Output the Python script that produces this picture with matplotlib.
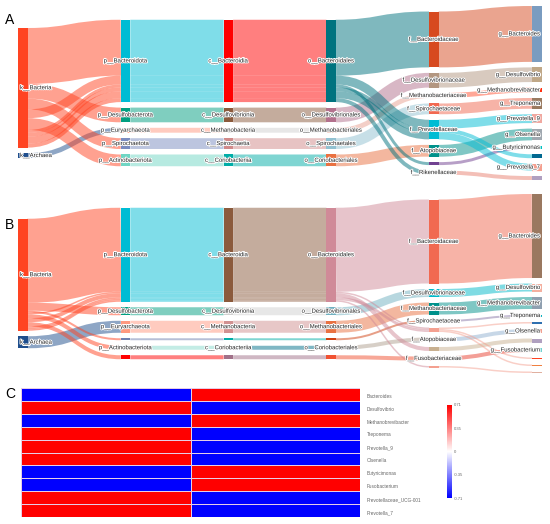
import matplotlib
matplotlib.use("Agg")
import matplotlib.pyplot as plt
import matplotlib.patheffects as pe
from matplotlib.path import Path
from matplotlib.patches import PathPatch, Rectangle
from matplotlib.colors import LinearSegmentedColormap
import numpy as np

plt.rcParams['font.family'] = ['Liberation Sans', 'DejaVu Sans']

RANKS = ['k', 'p', 'c', 'o', 'f', 'g']

# ---- panel A: one row per genus ----
kingdom_a = ['Bacteria', 'Bacteria', 'Archaea', 'Bacteria', 'Bacteria',
             'Bacteria', 'Bacteria', 'Bacteria', 'Bacteria', 'Bacteria']
phylum_a = ['Bacteroidota', 'Desulfobacterota', 'Euryarchaeota', 'Spirochaetota', 'Bacteroidota',
            'Actinobacteriota', 'Bacteroidota', 'Bacteroidota', 'Bacteroidota', 'Bacteroidota']
class_a = ['Bacteroidia', 'Desulfovibrionia', 'Methanobacteria', 'Spirochaetia', 'Bacteroidia',
           'Coriobacteriia', 'Bacteroidia', 'Bacteroidia', 'Bacteroidia', 'Bacteroidia']
order_a = ['Bacteroidales', 'Desulfovibrionales', 'Methanobacteriales', 'Spirochaetales', 'Bacteroidales',
           'Coriobacteriales', 'Bacteroidales', 'Bacteroidales', 'Bacteroidales', 'Bacteroidales']
family_a = ['Bacteroidaceae', 'Desulfovibrionaceae', 'Methanobacteriaceae', 'Spirochaetaceae', 'Prevotellaceae',
            'Atopobiaceae', 'Marinifilaceae', 'Prevotellaceae', 'Prevotellaceae', 'Rikenellaceae']
genus_a = ['Bacteroides', 'Desulfovibrio', 'Methanobrevibacter', 'Treponema', 'Prevotella_9',
           'Olsenella', 'Butyricimonas', 'Prevotellaceae_UCG-001', 'Prevotella_7', 'Rikenellaceae_RC9_gut_group']
abund_a = [57, 15, 5, 11, 9, 12, 3, 4, 7, 4]

# ---- panel B ----
kingdom_b = ['Bacteria', 'Bacteria', 'Archaea', 'Bacteria', 'Bacteria', 'Bacteria',
             'Bacteria', 'Bacteria', 'Bacteria', 'Bacteria', 'Bacteria']
phylum_b = ['Bacteroidota', 'Desulfobacterota', 'Euryarchaeota', 'Spirochaetota', 'Bacteroidota', 'Actinobacteriota',
            'Bacteroidota', 'Fusobacteriota', 'Bacteroidota', 'Bacteroidota', 'Bacteroidota']
class_b = ['Bacteroidia', 'Desulfovibrionia', 'Methanobacteria', 'Spirochaetia', 'Bacteroidia', 'Coriobacteriia',
           'Bacteroidia', 'Fusobacteriia', 'Bacteroidia', 'Bacteroidia', 'Bacteroidia']
order_b = ['Bacteroidales', 'Desulfovibrionales', 'Methanobacteriales', 'Spirochaetales', 'Bacteroidales',
           'Coriobacteriales', 'Bacteroidales', 'Fusobacteriales', 'Bacteroidales', 'Bacteroidales', 'Bacteroidales']
family_b = ['Bacteroidaceae', 'Desulfovibrionaceae', 'Methanobacteriaceae', 'Spirochaetaceae', 'Prevotellaceae',
            'Atopobiaceae', 'Marinifilaceae', 'Fusobacteriaceae', 'Prevotellaceae', 'Prevotellaceae', 'Rikenellaceae']
genus_b = ['Bacteroides', 'Desulfovibrio', 'Methanobrevibacter', 'Treponema', 'Prevotella_9', 'Olsenella',
           'Butyricimonas', 'Fusobacterium', 'Prevotellaceae_UCG-001', 'Prevotella_7', 'Rikenellaceae_RC9_gut_group']
abund_b = [84, 8, 12, 2, 1.5, 4, 4, 4, 1.5, 1.5, 1.5]

# ---- panel C heatmap ----
heat_genera = ['Bacteroides', 'Desulfovibrio', 'Methanobrevibacter', 'Treponema', 'Prevotella_9',
               'Olsenella', 'Butyricimonas', 'Fusobacterium', 'Prevotellaceae_UCG-001', 'Prevotella_7']
group1 = [-0.71, 0.71, -0.71, 0.71, 0.71, 0.71, -0.71, -0.71, 0.71, 0.71]
group2 = [0.71, -0.71, 0.71, -0.71, -0.71, -0.71, 0.71, 0.71, -0.71, -0.71]

# node colours
colors_a = {
    'k__Bacteria': '#FF4422', 'k__Archaea': '#1F4E8C',
    'p__Bacteroidota': '#00BCD4', 'p__Desulfobacterota': '#009F81', 'p__Euryarchaeota': '#FF9980',
    'p__Spirochaetota': '#7A8CC0', 'p__Actinobacteriota': '#70D6C4',
    'c__Bacteroidia': '#FF0000', 'c__Desulfovibrionia': '#8B5A3C', 'c__Methanobacteria': '#D0D0D0',
    'c__Spirochaetia': '#D18989', 'c__Coriobacteriia': '#00ADA7',
    'o__Bacteroidales': '#00737F', 'o__Desulfovibrionales': '#B3718D', 'o__Methanobacteriales': '#E9A191',
    'o__Spirochaetales': '#91C1D1', 'o__Coriobacteriales': '#E97141',
    'f__Bacteroidaceae': '#D74A20', 'f__Desulfovibrionaceae': '#B39781', 'f__Methanobacteriaceae': '#FF5030',
    'f__Spirochaetaceae': '#F16951', 'f__Prevotellaceae': '#00BCD4', 'f__Atopobiaceae': '#00918B',
    'f__Marinifilaceae': '#714191', 'f__Rikenellaceae': '#E98171',
    'g__Bacteroides': '#7A9CC0', 'g__Desulfovibrio': '#C0A888', 'g__Methanobrevibacter': '#FF3010',
    'g__Treponema': '#9A7A60', 'g__Prevotella_9': '#F0A8A0', 'g__Olsenella': '#A0A8B0',
    'g__Butyricimonas': '#00C0C0', 'g__Prevotellaceae_UCG-001': '#006890', 'g__Prevotella_7': '#F4A090',
    'g__Rikenellaceae_RC9_gut_group': '#B0A0C0',
}
colors_b = {
    'k__Bacteria': '#FF4422', 'k__Archaea': '#1F4E8C',
    'p__Bacteroidota': '#00BCD4', 'p__Desulfobacterota': '#009F81', 'p__Euryarchaeota': '#FF9980',
    'p__Spirochaetota': '#7080B0', 'p__Actinobacteriota': '#89DBCD', 'p__Fusobacteriota': '#FF0000',
    'c__Bacteroidia': '#8B5A3C', 'c__Desulfovibrionia': '#D1D1D1', 'c__Methanobacteria': '#D19191',
    'c__Spirochaetia': '#00ADA7', 'c__Coriobacteriia': '#01718B', 'c__Fusobacteriia': '#A17189',
    'o__Bacteroidales': '#D08A98', 'o__Desulfovibrionales': '#71B1C1', 'o__Methanobacteriales': '#E97141',
    'o__Spirochaetales': '#D04010', 'o__Coriobacteriales': '#B1A191', 'o__Fusobacteriales': '#F15131',
    'f__Bacteroidaceae': '#F16951', 'f__Desulfovibrionaceae': '#00B8C8', 'f__Methanobacteriaceae': '#00918B',
    'f__Spirochaetaceae': '#8A78A8', 'f__Prevotellaceae': '#F4A090', 'f__Atopobiaceae': '#91B1D1',
    'f__Marinifilaceae': '#C8B090', 'f__Fusobacteriaceae': '#E84030', 'f__Rikenellaceae': '#F4A090',
    'g__Bacteroides': '#9A7860', 'g__Desulfovibrio': '#F4B0A0', 'g__Methanobrevibacter': '#90A0B0',
    'g__Treponema': '#00B0C0', 'g__Prevotella_9': '#3070B0', 'g__Olsenella': '#F0A090',
    'g__Butyricimonas': '#B0A0C0', 'g__Fusobacterium': '#70D0D0', 'g__Prevotellaceae_UCG-001': '#FF4020',
    'g__Prevotella_7': '#F08040', 'g__Rikenellaceae_RC9_gut_group': '#E0B0A0',
}
hidden_a = {'f__Marinifilaceae', 'g__Prevotellaceae_UCG-001', 'g__Rikenellaceae_RC9_gut_group'}
hidden_b = {'p__Spirochaetota', 'p__Fusobacteriota', 'c__Spirochaetia', 'c__Fusobacteriia',
            'o__Spirochaetales', 'o__Fusobacteriales', 'f__Prevotellaceae', 'f__Marinifilaceae',
            'f__Rikenellaceae', 'g__Prevotella_9', 'g__Butyricimonas', 'g__Prevotellaceae_UCG-001',
            'g__Prevotella_7', 'g__Rikenellaceae_RC9_gut_group'}


def draw_sankey(ax, levels, values, colors, hidden, top, bottom, pad=5.5,
                x_start=18, x_step=102.8, node_w=9.5):
    levels = [[RANKS[ci] + '__' + n for n in lv] for ci, lv in enumerate(levels)]
    cols = [list(dict.fromkeys(lv)) for lv in levels]
    nval = {}
    for lv in levels:
        for n, v in zip(lv, values):
            nval[n] = nval.get(n, 0) + v
    ky = min((bottom - top - (len(c) - 1) * pad) / sum(nval[n] for n in c) for c in cols)
    ypos, xpos = {}, {}
    mid = (top + bottom) / 2
    for ci, c in enumerate(cols):
        h = sum(nval[n] for n in c) * ky + (len(c) - 1) * pad
        y = mid - h / 2
        for n in c:
            ypos[n] = y
            xpos[n] = x_start + ci * x_step
            y += nval[n] * ky + pad

    # links, stacked in row order at both ends
    for ci in range(len(levels) - 1):
        s_off, t_off = {}, {}
        for r, v in enumerate(values):
            s, t = levels[ci][r], levels[ci + 1][r]
            w = v * ky
            y0 = ypos[s] + s_off.get(s, 0) + w / 2
            y1 = ypos[t] + t_off.get(t, 0) + w / 2
            s_off[s] = s_off.get(s, 0) + w
            t_off[t] = t_off.get(t, 0) + w
            x0 = xpos[s] + node_w
            x1 = xpos[t]
            xm = (x0 + x1) / 2
            path = Path([(x0, y0), (xm, y0), (xm, y1), (x1, y1)],
                        [Path.MOVETO, Path.CURVE4, Path.CURVE4, Path.CURVE4])
            ax.add_patch(PathPatch(path, fill=False, ec=colors[s], alpha=0.5,
                                   lw=w * 0.72, capstyle='butt', zorder=1))

    last = len(cols) - 1
    for ci, c in enumerate(cols):
        for n in c:
            h = nval[n] * ky
            ax.add_patch(Rectangle((xpos[n], ypos[n]), node_w, h, fc=colors[n],
                                   ec='none', zorder=2))
            if n in hidden:
                continue
            yc = ypos[n] + h / 2
            if ci == 0:
                x, ha = xpos[n] + 2, 'left'
            elif ci == last:
                x, ha = xpos[n] + node_w - 1, 'right'
            else:
                x, ha = xpos[n] + node_w / 2, 'center'
            ax.text(x, yc, n, ha=ha, va='center', fontsize=4.3, color='#222222', zorder=3,
                    path_effects=[pe.withStroke(linewidth=1.3, foreground='white')])


fig = plt.figure(figsize=(5.5, 5.24), dpi=100)
ax = fig.add_axes([0, 0, 1, 1])
ax.set_xlim(0, 550)
ax.set_ylim(524, 0)
ax.axis('off')

draw_sankey(ax, [kingdom_a, phylum_a, class_a, order_a, family_a, genus_a], abund_a,
            colors_a, hidden_a, top=6, bottom=180)
draw_sankey(ax, [kingdom_b, phylum_b, class_b, order_b, family_b, genus_b], abund_b,
            colors_b, hidden_b, top=194, bottom=373)

for letter, yb in [('A', 24), ('B', 229), ('C', 398)]:
    ax.text(5, yb, letter, fontsize=10, ha='left', va='baseline', color='black')

# heatmap
cmap = LinearSegmentedColormap.from_list('bwr2', ['#0000FF', '#FFFFFF', '#FF0000'])
axh = fig.add_axes([21 / 550, 1 - 517 / 524, 339 / 550, 129 / 524])
data = np.array([group1, group2]).T
mesh = axh.pcolormesh(data, cmap=cmap, vmin=-0.71, vmax=0.71,
                      edgecolors='#E6CCE6', linewidth=0.4)
axh.set_xlim(0, 2)
axh.set_ylim(len(heat_genera), 0)
axh.set_xticks([])
axh.yaxis.tick_right()
axh.set_yticks(np.arange(len(heat_genera)) + 0.6)
axh.set_yticklabels(heat_genera, fontsize=3.4, color='#666666')
axh.tick_params(axis='y', length=0, pad=5)
for sp in axh.spines.values():
    sp.set_visible(False)

cax = fig.add_axes([447 / 550, 1 - 498 / 524, 5 / 550, 93 / 524])
cb = fig.colorbar(mesh, cax=cax, ticks=[0.71, 0.35, 0, -0.35, -0.71])
cb.ax.set_yticklabels(['0.71', '0.35', '0', '-0.35', '-0.71'], fontsize=3, color='#666666')
cb.ax.tick_params(length=0, pad=1.5)
cb.outline.set_visible(False)

fig.savefig('out.png', dpi=100)
